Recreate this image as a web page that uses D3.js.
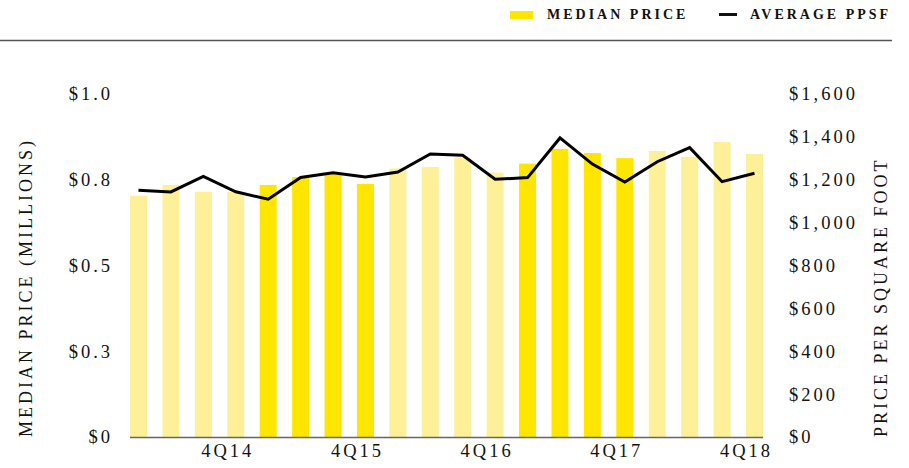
<!DOCTYPE html>
<html>
<head>
<meta charset="utf-8">
<script src="https://cdn.jsdelivr.net/npm/d3@7"></script>
<style>
  body { margin: 0; background: #fff; }
  svg { display: block; }
  .tick text { font-family: "Liberation Serif", serif; font-size: 18.5px; letter-spacing: 3px; fill: #111; }
  .axisTitle { font-family: "Liberation Serif", serif; font-size: 18px; letter-spacing: 3px; fill: #111; }
  .legend text { font-family: "Liberation Serif", serif; font-size: 14px; font-weight: 700; letter-spacing: 3px; fill: #111; }
</style>
</head>
<body>
<div id="chart"></div>
<script>
// Quarters, 1Q14 .. 4Q18
var quarters = ['1Q14', '2Q14', '3Q14', '4Q14',
                '1Q15', '2Q15', '3Q15', '4Q15',
                '1Q16', '2Q16', '3Q16', '4Q16',
                '1Q17', '2Q17', '3Q17', '4Q17',
                '1Q18', '2Q18', '3Q18', '4Q18'];

// Median price, millions
var medianPrice = [0.703, 0.735, 0.715, 0.715,
                   0.735, 0.758, 0.766, 0.738,
                   0.783, 0.787, 0.815, 0.771,
                   0.797, 0.840, 0.828, 0.813,
                   0.834, 0.817, 0.860, 0.825];

// Average price per square foot
var averagePpsf = [1151, 1143, 1216, 1144,
                   1109, 1211, 1233, 1213,
                   1236, 1320, 1314, 1202,
                   1210, 1395, 1273, 1189,
                   1284, 1350, 1191, 1230];

var leftTicks = [0, 0.25, 0.5, 0.75, 1.0];
var rightTicks = [0, 200, 400, 600, 800, 1000, 1200, 1400, 1600];
var xLabels = ['4Q14', '4Q15', '4Q16', '4Q17', '4Q18'];

var width = 909, height = 468;
var BRIGHT = '#ffe600', LIGHT = '#fef099';

var svg = d3.select('#chart').append('svg')
    .attr('width', width)
    .attr('height', height);

// Header rule
svg.append('line')
    .attr('x1', 0).attr('x2', 892)
    .attr('y1', 40.5).attr('y2', 40.5)
    .style('stroke', '#555')
    .style('stroke-width', 1.5);

// Legend
var legend = svg.append('g').classed('legend', true);
legend.append('rect')
    .attr('x', 510).attr('y', 11)
    .attr('width', 23).attr('height', 8)
    .style('fill', BRIGHT);
legend.append('text')
    .attr('x', 547).attr('y', 19)
    .text('MEDIAN PRICE');
legend.append('rect')
    .attr('x', 719).attr('y', 13)
    .attr('width', 18).attr('height', 3)
    .style('fill', '#111');
legend.append('text')
    .attr('x', 750).attr('y', 19)
    .text('AVERAGE PPSF');

// Scales
var x = d3.scaleBand()
    .domain(quarters)
    .range([130, 763])
    .paddingInner(0.476)
    .paddingOuter(0);

var yLeft = d3.scaleLinear().domain([0, 1]).range([437, 94]);
var yRight = d3.scaleLinear().domain([0, 1600]).range([437, 94]);

// Bars
svg.selectAll('rect.bar').data(quarters)
  .enter().append('rect')
    .classed('bar', true)
    .attr('x', function(d) { return x(d); })
    .attr('width', x.bandwidth())
    .attr('y', function(d, i) { return yLeft(medianPrice[i]); })
    .attr('height', function(d, i) { return yLeft(0) - yLeft(medianPrice[i]); })
    .style('fill', function(d) {
      var yr = +d.slice(2);
      return yr % 2 === 1 ? BRIGHT : LIGHT;
    });

// Baseline
svg.append('line')
    .attr('x1', 130).attr('x2', 763)
    .attr('y1', 437.5).attr('y2', 437.5)
    .style('stroke', '#666')
    .style('stroke-width', 1.5);

// PPSF line
var line = d3.line()
    .x(function(d, i) { return x(quarters[i]) + x.bandwidth() / 2; })
    .y(function(d) { return yRight(d); });
svg.append('path')
    .datum(averagePpsf)
    .attr('d', line)
    .style('fill', 'none')
    .style('stroke', '#000')
    .style('stroke-width', 3);

// Left axis
var leftFmt = function(d) { return d === 0 ? '$0' : '$' + d3.format('.1f')(d); };
var leftAxis = svg.append('g')
    .attr('transform', 'translate(113,0)')
    .call(d3.axisLeft(yLeft).tickValues(leftTicks).tickFormat(leftFmt).tickSize(0).tickPadding(0));
leftAxis.select('.domain').remove();

// Right axis
var rightAxis = svg.append('g')
    .attr('transform', 'translate(789,0)')
    .call(d3.axisRight(yRight).tickValues(rightTicks).tickFormat(d3.format('$,')).tickSize(0).tickPadding(0));
rightAxis.select('.domain').remove();

// Bottom axis labels (every 4th quarter)
var bottomAxis = svg.append('g')
    .attr('transform', 'translate(0,444)')
    .call(d3.axisBottom(x).tickValues(xLabels).tickSize(0).tickPadding(0));
bottomAxis.select('.domain').remove();
bottomAxis.selectAll('.tick text')
    .attr('dx', -8)
    .attr('dy', '0.71em');

svg.selectAll('.tick text').style('font-family', '"Liberation Serif", serif');

// Axis titles
svg.append('text')
    .classed('axisTitle', true)
    .attr('transform', 'translate(32,437) rotate(-90)')
    .text('MEDIAN PRICE (MILLIONS)');
svg.append('text')
    .classed('axisTitle', true)
    .attr('transform', 'translate(887,437) rotate(-90)')
    .text('PRICE PER SQUARE FOOT');
</script>
</body>
</html>
